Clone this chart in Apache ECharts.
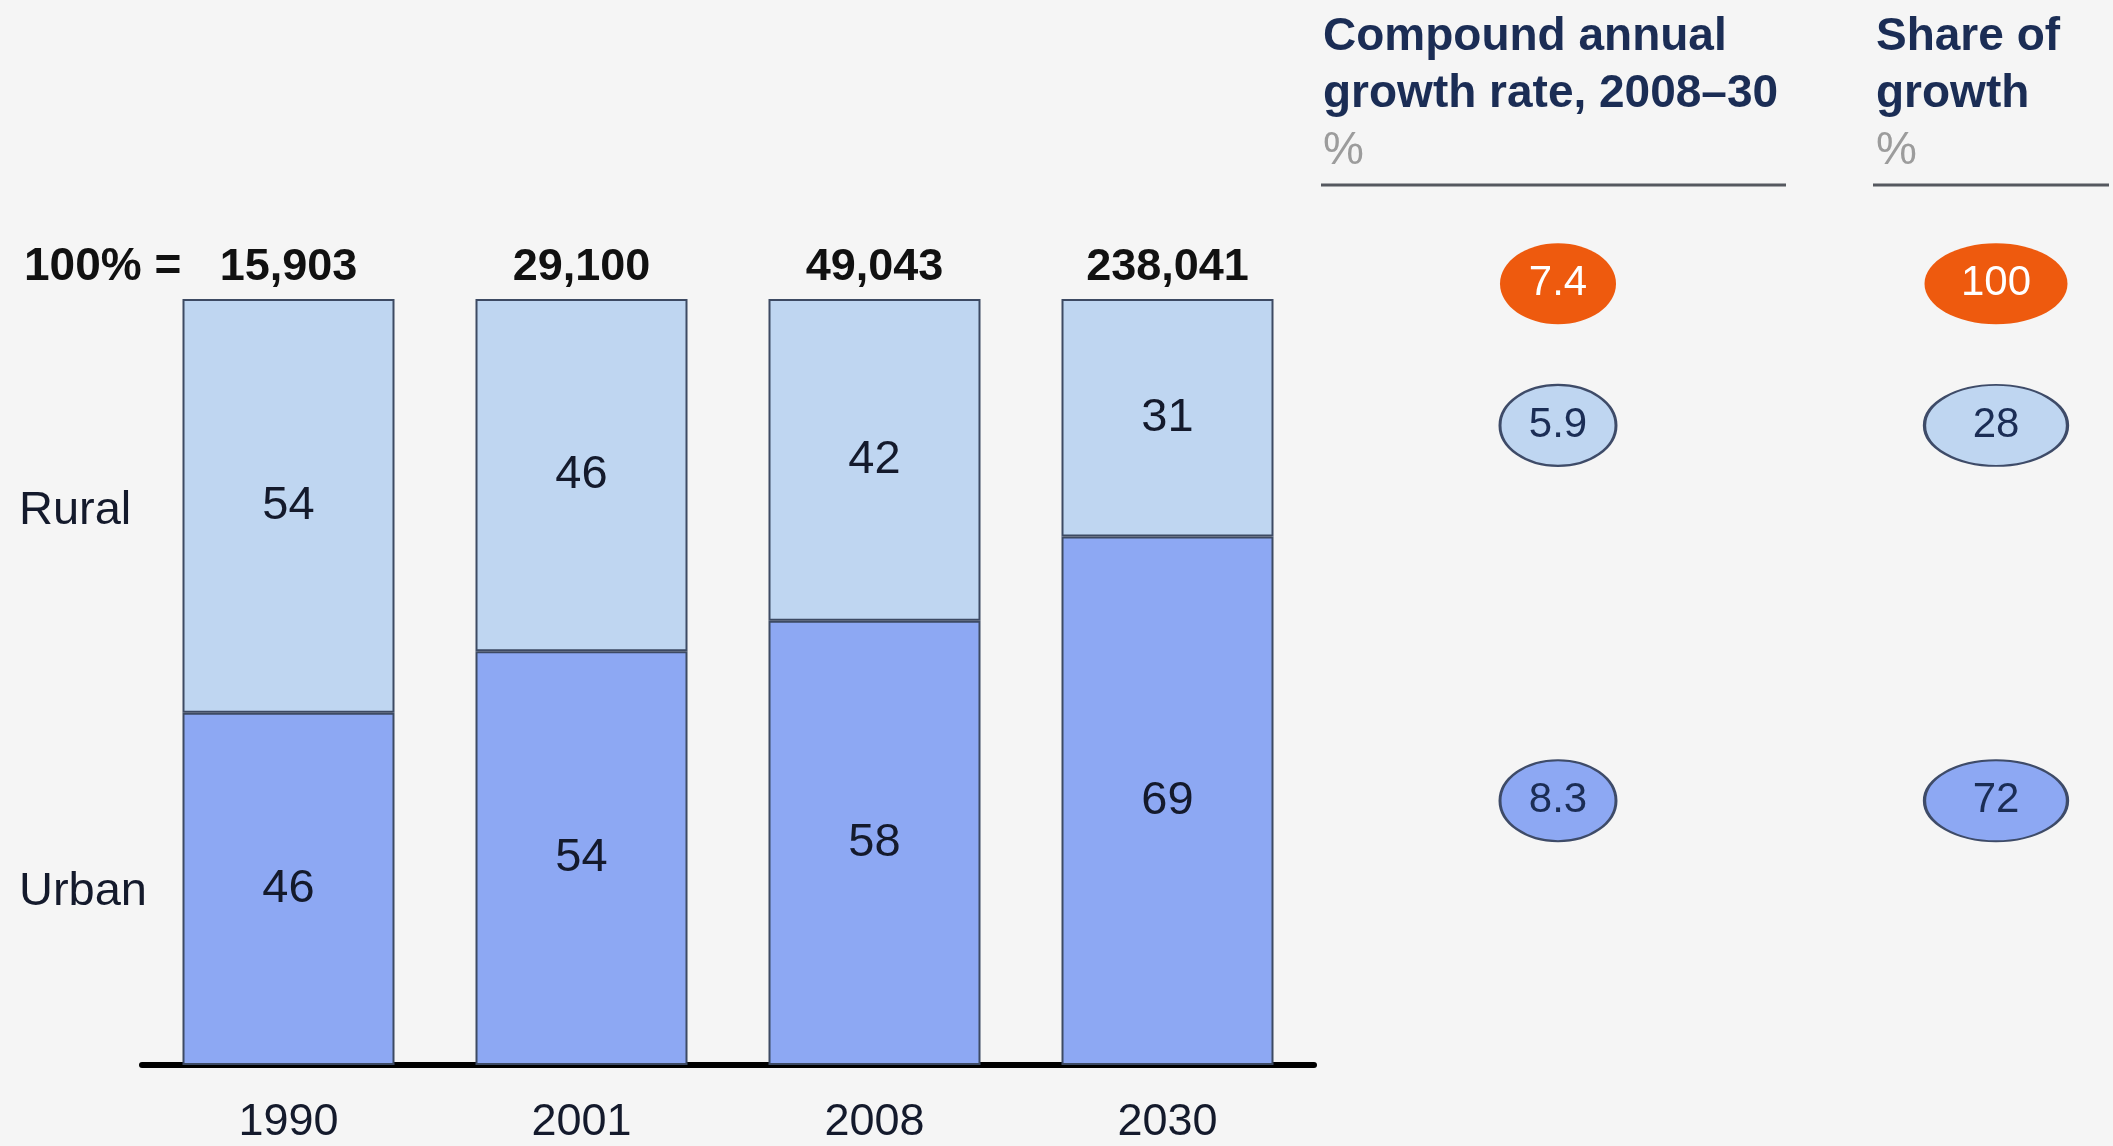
<!DOCTYPE html>
<html><head><meta charset="utf-8">
<script src="https://cdn.jsdelivr.net/npm/echarts@6/dist/echarts.min.js"></script>
<style>html,body{margin:0;padding:0;background:#f5f5f5}#c{width:2113px;height:1146px}</style>
</head><body><div id="c"></div>
<script>
// ---- data ----
const years = ['1990', '2001', '2008', '2030'];
const totals = ['15,903', '29,100', '49,043', '238,041'];
const urban = [46, 54, 58, 69];
const rural = [54, 46, 42, 31];
const segmentNames = ['Rural', 'Urban'];
const tableRows = ['Total', 'Rural', 'Urban'];
const cagr = [7.4, 5.9, 8.3];      // Compound annual growth rate 2008–30, %
const share = [100, 28, 72];       // Share of growth, %
const tableHeaders = [['Compound annual', 'growth rate, 2008–30', '%'], ['Share of', 'growth', '%']];

// ---- style ----
const FONT = '"Liberation Sans", Arial, Helvetica, sans-serif';
const C_RURAL = '#bfd6f1', C_URBAN = '#8da8f3', C_EDGE = '#3d4a63', C_ORANGE = '#ee5a0e';
const C_NAVY = '#1b2d55', C_TEXT = '#141a2c';
const last = years.length - 1;
const TOTAL_ROW = 102; // total row sits on the "100% =" line
const rowY = [TOTAL_ROW, urban[last] + rural[last] / 2 - 1, urban[last] / 2];
const rowFill = [C_ORANGE, C_RURAL, C_URBAN];
const colSize = [[116, 81], [143, 81]];

const chart = echarts.init(document.getElementById('c'), null, { renderer: 'canvas' });

const scatterData = [];
[cagr, share].forEach((arr, c) => {
  arr.forEach((v, r) => {
    scatterData.push({
      value: [c, rowY[r]],
      symbolSize: colSize[c],
      itemStyle: { color: rowFill[r], opacity: 1, borderColor: r === 0 ? C_ORANGE : '#3e4b68', borderWidth: r === 0 ? 0 : 2.5 },
      label: {
        formatter: c === 0 ? v.toFixed(1) : String(v),
        color: r === 0 ? '#ffffff' : C_NAVY
      }
    });
  });
});

const ellipse = 'path://M50,0 C77.6,0 100,22.4 100,50 C100,77.6 77.6,100 50,100 C22.4,100 0,77.6 0,50 C0,22.4 22.4,0 50,0 Z';

const headerGraphics = [];
const headerX = [1323, 1876];
const lineSpan = [[1321, 1786], [1873, 2109]];
tableHeaders.forEach((lines, c) => {
  lines.forEach((t, i) => {
    headerGraphics.push({
      type: 'text', x: headerX[c], y: 37 + i * 57,
      style: { text: t, fill: i === 2 ? '#9c9c9c' : C_NAVY, font: (i === 2 ? '' : 'bold ') + '46px ' + FONT, verticalAlign: 'middle', align: 'left' }
    });
  });
  headerGraphics.push({
    type: 'line', shape: { x1: lineSpan[c][0], y1: 185, x2: lineSpan[c][1], y2: 185 },
    style: { stroke: '#55585f', lineWidth: 3 }
  });
});

chart.setOption({
  backgroundColor: '#f5f5f5',
  animation: false,
  grid: [
    { left: 142, width: 1172, top: 299, bottom: 81 },
    { left: 1558, width: 438, top: 299, bottom: 81 }
  ],
  xAxis: [
    {
      type: 'category', data: years, gridIndex: 0,
      axisLine: { lineStyle: { color: '#000', width: 6 } },
      axisTick: { show: false },
      axisLabel: { color: C_TEXT, fontSize: 45, fontFamily: FONT, margin: 35 }
    },
    { type: 'category', data: ['cagr', 'share'], gridIndex: 1, boundaryGap: false, show: false }
  ],
  yAxis: [
    { type: 'value', min: 0, max: 100, gridIndex: 0, show: false },
    { type: 'value', min: 0, max: 100, gridIndex: 1, show: false }
  ],
  series: [
    {
      name: segmentNames[1], type: 'bar', stack: 's', data: urban, barWidth: 212,
      itemStyle: { color: C_URBAN, borderColor: C_EDGE, borderWidth: 2 },
      label: { show: true, position: 'inside', color: C_TEXT, fontSize: 47, fontFamily: FONT }
    },
    {
      name: segmentNames[0], type: 'bar', stack: 's', data: rural, barWidth: 212,
      itemStyle: { color: C_RURAL, borderColor: C_EDGE, borderWidth: 2 },
      label: { show: true, position: 'inside', color: C_TEXT, fontSize: 47, fontFamily: FONT }
    },
    {
      name: 'totals', type: 'bar', stack: 's', data: years.map(() => 0), barWidth: 212,
      itemStyle: { color: 'transparent' },
      label: {
        show: true, position: 'top', distance: 9, color: '#111', fontWeight: 'bold', fontSize: 45, fontFamily: FONT,
        formatter: p => totals[p.dataIndex]
      }
    },
    {
      name: 'table', type: 'scatter', xAxisIndex: 1, yAxisIndex: 1, clip: false,
      symbol: ellipse, data: scatterData,
      label: { show: true, position: 'inside', fontSize: 42, fontFamily: FONT }
    }
  ],
  graphic: headerGraphics
});

// labels placed from the chart's own scales
const pRural = chart.convertToPixel({ xAxisIndex: 0, yAxisIndex: 0 }, [years[0], urban[0] + rural[0] / 2]);
const pUrban = chart.convertToPixel({ xAxisIndex: 0, yAxisIndex: 0 }, [years[0], urban[0] / 2]);
const pTop = chart.convertToPixel({ xAxisIndex: 0, yAxisIndex: 0 }, [years[0], 100]);
chart.setOption({
  graphic: headerGraphics.concat([
    { type: 'text', x: 19, y: pRural[1] + 5, style: { text: segmentNames[0], fill: C_TEXT, font: '47px ' + FONT, verticalAlign: 'middle' } },
    { type: 'text', x: 19, y: pUrban[1] + 3, style: { text: segmentNames[1], fill: C_TEXT, font: '47px ' + FONT, verticalAlign: 'middle' } },
    { type: 'text', x: 24, y: pTop[1] - 32, style: { text: '100% =', fill: '#111', font: 'bold 46px ' + FONT, verticalAlign: 'middle' } }
  ])
});
</script>
</body></html>
